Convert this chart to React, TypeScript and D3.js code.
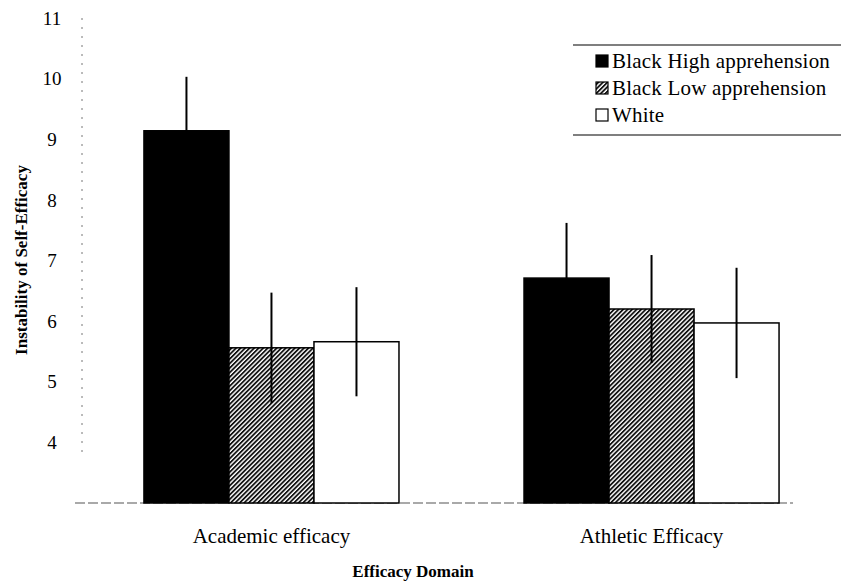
import React from 'react';
import * as d3 from 'd3';

const domains = ['Academic efficacy', 'Athletic Efficacy'];
const groups = ['Black High apprehension', 'Black Low apprehension', 'White'];
const means = [
  [9.14, 5.56, 5.66],
  [6.71, 6.2, 5.97],
];
const errors = [
  [0.89, 0.91, 0.9],
  [0.91, 0.89, 0.91],
];
const yTicks = [4, 5, 6, 7, 8, 9, 10, 11];

const W = 841;
const H = 582;
const serif = "'Liberation Serif', 'DejaVu Serif', serif";

const App: React.FC = () => {
  const y = d3.scaleLinear().domain([3, 11]).range([503, 18]);
  const x0 = d3.scaleBand<string>().domain(domains).range([82, 841])
    .paddingInner(0.329).paddingOuter(0.163);
  const x1 = d3.scaleBand<string>().domain(groups).range([0, x0.bandwidth()]);
  const fills = ['#000', 'url(#hatch)', '#fff'];

  return (
    <svg width={W} height={H}
      style={{ position: 'absolute', left: 0, top: 0, background: '#fff', fontFamily: serif }}>
      <defs>
        <pattern id="hatch" patternUnits="userSpaceOnUse" width={3.2} height={3.2}
          patternTransform="rotate(45)">
          <rect width={3.2} height={3.2} fill="#fff" />
          <line x1={0} y1={0} x2={0} y2={3.2} stroke="#111" strokeWidth={3.6} />
        </pattern>
      </defs>

      {/* dotted y axis */}
      <line x1={82} x2={82} y1={y(11)} y2={y(3.8)} stroke="#777" strokeWidth={1}
        strokeDasharray="2,7" />
      {yTicks.map(t => (
        <text key={t} x={52} y={y(t)} dy="0.35em" textAnchor="middle" fontSize={19}>{t}</text>
      ))}

      {/* baseline */}
      <line x1={75} x2={793} y1={y(3)} y2={y(3)} stroke="#555" strokeWidth={1.2}
        strokeDasharray="10,3" />

      {domains.map((dm, i) => (
        <g key={dm} transform={`translate(${x0(dm)},0)`}>
          {groups.map((g, j) => {
            const bx = x1(g)!;
            const cx = bx + x1.bandwidth() / 2;
            return (
              <g key={g}>
                <rect x={bx} y={y(means[i][j])} width={x1.bandwidth()}
                  height={y(3) - y(means[i][j])} fill={fills[j]} stroke="#000" strokeWidth={1.5} />
                <line x1={cx} x2={cx} y1={y(means[i][j] + errors[i][j])}
                  y2={y(means[i][j] - errors[i][j])} stroke="#000" strokeWidth={2} />
              </g>
            );
          })}
          <text x={x0.bandwidth() / 2} y={543} textAnchor="middle" fontSize={21}>{dm}</text>
        </g>
      ))}

      <text x={413} y={577} textAnchor="middle" fontSize={17}
        fontWeight="bold">Efficacy Domain</text>
      <text transform="translate(27,260) rotate(-90)" textAnchor="middle"
        fontSize={17} fontWeight="bold">Instability of Self-Efficacy</text>

      {/* legend */}
      <g>
        <line x1={573} x2={841} y1={45} y2={45} stroke="#000" strokeWidth={1.2} />
        <line x1={573} x2={841} y1={135} y2={135} stroke="#000" strokeWidth={1.2} />
        {groups.map((g, j) => (
          <g key={g} transform={`translate(596,${61 + j * 27})`}>
            <rect x={0} y={-6} width={12} height={12} fill={fills[j]} stroke="#000"
              strokeWidth={1.2} />
            <text x={16} y={0} dy="0.33em" fontSize={21} letterSpacing={0.2}>{g}</text>
          </g>
        ))}
      </g>
    </svg>
  );
};

export default App;
